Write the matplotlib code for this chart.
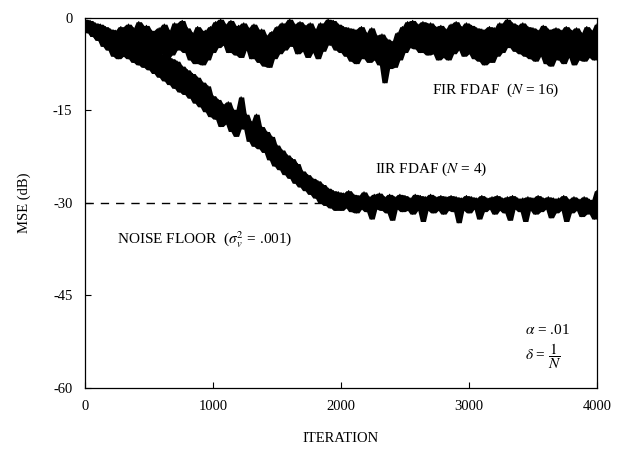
import numpy as np
import matplotlib
matplotlib.use("Agg")
import matplotlib.pyplot as plt

plt.rcParams['font.family'] = ['Liberation Serif', 'DejaVu Serif']
plt.rcParams['mathtext.fontset'] = 'stix'
plt.rcParams['axes.unicode_minus'] = False

# iteration grid the curves were read at (every 20 iterations)
iterations = np.arange(0, 4001, 20)

# FIR FDAF (N = 16) MSE in dB
fir_mse = [
    -0.2, -1.8, -0.4, -3.0, -0.8, -3.6, -1.0, -4.6, -1.4, -5.2,
    -1.8, -6.2, -2.0, -6.6, -1.4, -5.6, -6.2, -1.0, -5.0, -1.6,
    -5.8, -0.6, -4.4, -6.0, -1.2, -7.0, -2.0, -6.4, -7.4, -1.6,
    -5.8, -1.0, -6.6, -2.0, -6.0, -0.8, -5.2, -1.4, -0.4, -5.6,
    -1.6, -6.8, -2.4, -7.4, -1.4, -6.2, -7.6, -2.0, -6.8, -1.4,
    -5.6, -0.6, -4.8, -0.2, -4.4, -1.0, -5.6, -0.4, -4.6, -6.0,
    -1.2, -6.4, -0.8, -5.2, -1.6, -6.6, -1.0, -5.0, -7.2, -1.8,
    -7.8, -2.8, -8.0, -2.2, -6.6, -1.4, -5.8, -0.8, -5.2, -1.6,
    -0.2, -4.6, -1.0, -5.8, -0.6, -5.4, -1.2, -6.4, -0.8, -5.6,
    -1.8, -6.6, -0.8, -5.4, -1.4, -0.2, -4.4, -0.4, -5.2, -1.0,
    -5.6, -1.4, -6.2, -1.6, -7.0, -1.8, -7.4, -3.0, -1.4, -6.6,
    -2.4, -7.2, -1.6, -6.8, -2.8, -7.6, -2.6, -10.5, -3.4, -8.2,
    -3.8, -8.0, -2.4, -6.8, -1.4, -5.6, -0.6, -4.8, -0.4, -5.0,
    -1.0, -5.6, -0.6, -4.2, -6.0, -0.8, -5.8, -1.4, -6.8, -1.2,
    -6.4, -1.8, -6.8, -1.0, -5.8, -0.6, -5.2, -1.4, -6.2, -0.8,
    -5.8, -1.2, -6.6, -1.6, -7.0, -1.8, -7.6, -2.8, -1.4, -7.2,
    -1.6, -6.2, -0.8, -5.6, -1.8, -0.2, -4.8, -0.8, -5.4, -1.2,
    -5.8, -0.8, -6.2, -1.4, -6.6, -1.6, -7.0, -2.0, -6.2, -1.2,
    -7.4, -1.8, -7.8, -2.8, -1.6, -6.8, -2.0, -7.4, -1.4, -6.4,
    -2.0, -7.6, -1.6, -6.8, -2.4, -7.0, -1.4, -6.4, -2.0, -6.8,
    -1.0,
]

# IIR FDAF (N = 4) MSE in dB
iir_mse = [
    -0.4, -2.4, -0.8, -3.0, -1.2, -3.6, -1.4, -4.2, -2.0, -4.8,
    -2.2, -5.4, -2.4, -5.8, -3.0, -6.2, -2.8, -6.6, -3.6, -7.2,
    -3.6, -7.6, -4.0, -8.0, -4.4, -8.4, -4.8, -9.0, -5.4, -9.6,
    -5.8, -10.2, -6.2, -10.8, -6.6, -11.4, -7.0, -12.0, -7.8, -12.4,
    -8.4, -13.0, -9.0, -13.8, -9.6, -14.4, -10.4, -15.2, -11.0, -16.0,
    -12.6, -16.4, -13.2, -17.6, -14.0, -17.2, -13.6, -18.4, -14.8, -19.2,
    -15.2, -12.8, -18.0, -15.6, -20.0, -16.8, -20.8, -15.6, -21.2, -17.6,
    -21.8, -18.4, -23.0, -19.2, -24.0, -20.6, -24.6, -21.4, -25.4, -22.2,
    -26.0, -22.8, -26.8, -23.6, -27.4, -24.8, -28.0, -25.4, -28.6, -26.0,
    -29.2, -26.4, -30.0, -27.0, -30.4, -27.6, -30.8, -28.0, -31.2, -28.2,
    -31.2, -28.4, -30.8, -28.0, -31.4, -28.6, -31.6, -28.8, -31.0, -28.2,
    -31.4, -29.0, -32.6, -28.6, -31.0, -28.4, -31.2, -29.0, -31.6, -28.6,
    -32.8, -29.0, -31.0, -28.6, -31.4, -28.8, -31.2, -29.2, -31.8, -28.6,
    -31.2, -28.8, -33.0, -29.0, -31.2, -28.6, -31.6, -29.0, -31.2, -28.8,
    -31.8, -29.0, -31.2, -28.8, -31.4, -29.0, -33.2, -29.2, -31.2, -28.8,
    -31.6, -29.0, -31.0, -29.2, -32.6, -28.8, -31.4, -29.2, -31.0, -29.0,
    -31.8, -28.8, -31.2, -29.2, -31.6, -29.0, -32.8, -28.8, -31.0, -29.2,
    -31.4, -29.2, -33.0, -29.0, -31.2, -29.2, -31.8, -28.8, -31.4, -29.2,
    -31.0, -29.0, -32.4, -29.2, -31.6, -29.2, -31.2, -28.8, -33.0, -29.4,
    -31.6, -29.0, -31.2, -29.4, -32.2, -29.0, -31.8, -29.4, -31.2, -32.6,
    -28.0,
]

noise_floor_db = -30
noise_floor_end = 2000

x_ticks = [0, 1000, 2000, 3000, 4000]
y_ticks = [0, -15, -30, -45, -60]


def band_edges(values):
    # running max / min over neighbouring samples -> filled noise band
    v = np.asarray(values)
    padded = np.pad(v, 1, mode='edge')
    stack = np.vstack([padded[:-2], padded[1:-1], padded[2:]])
    return stack.min(axis=0), stack.max(axis=0)


fig = plt.figure(figsize=(6.18, 4.51), dpi=100)
ax = fig.add_axes([0.1375, 0.1397, 0.8285, 0.8204])

for curve in (fir_mse, iir_mse):
    lo, hi = band_edges(curve)
    ax.fill_between(iterations, lo, hi, color='black', lw=0)
    ax.plot(iterations, curve, color='black', lw=0.9)

ax.plot([0, noise_floor_end], [noise_floor_db, noise_floor_db],
        color='black', lw=1.0, dashes=(6, 5))

ax.set_xlim(0, 4000)
ax.set_ylim(-60, 0)
ax.set_xticks(x_ticks)
ax.set_yticks(y_ticks)
ax.tick_params(direction='in', length=4, width=0.8, labelsize=10.5, pad=9)
for s in ax.spines.values():
    s.set_linewidth(0.9)

ax.set_xlabel('ITERATION', fontsize=10.5, labelpad=13)
ax.set_ylabel('MSE (dB)', fontsize=10.5, labelpad=16)

ax.text(2711, -11.7, r'FIR FDAF  ($N$ = 16)', fontsize=11, va='center')
ax.text(2266, -24.6, r'IIR FDAF ($N$ = 4)', fontsize=11, va='center')
ax.text(250, -36.0, r'NOISE FLOOR  ($\sigma_v^2$ = .001)', fontsize=11, va='center')
ax.text(3437, -50.6, r'$\alpha$ = .01', fontsize=11, va='center')
ax.text(3437, -54.8, r'$\delta$ = $\dfrac{1}{N}$', fontsize=11, va='center')

fig.savefig('out.png', dpi=100)
